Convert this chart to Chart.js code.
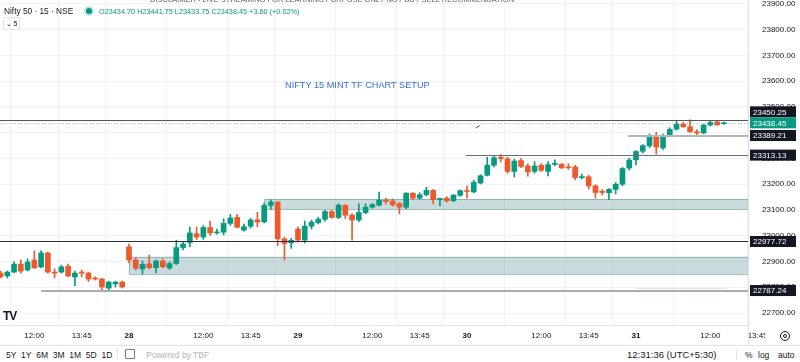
<!DOCTYPE html>
<html>
<head>
<meta charset="utf-8">
<script src="https://cdn.jsdelivr.net/npm/chart.js@4.4.1/dist/chart.umd.min.js"></script>
<style>
  html, body { margin: 0; padding: 0; background: #fff; overflow: hidden; }
  body { width: 800px; height: 362px; position: relative; font-family: "Liberation Sans", Arial, sans-serif; color: #131722; }
  #wrap { position: absolute; left: 0; top: 0; width: 800px; height: 345px; }
  .abs { position: absolute; white-space: nowrap; }
  #disclaimer { left: 150px; top: -5px; font-size: 7.5px; color: #5d606b; }
  #title { left: 4px; top: 6px; font-size: 8.3px; }
  #dot { left: 86px; top: 8px; width: 6px; height: 6px; border-radius: 50%; background: #089981; box-shadow: 0 0 0 2px rgba(8,153,129,0.25); }
  #ohlc { left: 99px; top: 7px; font-size: 7.3px; color: #089981; }
  #vol { left: 3px; top: 17px; width: 15px; height: 11px; border: 1px solid #e0e3eb; border-radius: 2px; font-size: 7px; line-height: 11px; text-align: center; color: #131722; }
  #note { left: 285px; top: 80px; font-size: 9.2px; color: #2f6fdf; }
  #logo { left: 3px; top: 309px; font-size: 12px; font-weight: bold; letter-spacing: -1px; }
  #bottom { position: absolute; left: 0; top: 345px; width: 800px; height: 17px; border-top: 1px solid #e0e3eb; font-size: 8.5px; }
  #bottom span { position: absolute; top: 4px; }
</style>
</head>
<body>
<div id="wrap"><canvas id="c" width="800" height="345"></canvas></div>
<div class="abs" id="disclaimer">DISCLAIMER - LIVE STREAMING FOR LEARNING PURPOSE ONLY NOT BUY SELL RECOMMENDATION</div>
<div class="abs" id="title">Nifty 50 · 15 · NSE</div>
<div class="abs" id="dot"></div>
<div class="abs" id="ohlc">O23434.70 H23441.75 L23433.75 C23438.45 +3.60 (+0.02%)</div>
<div class="abs" id="vol">⌄ 5</div>
<div class="abs" id="note">NIFTY 15 MINT TF CHART SETUP</div>
<div class="abs" id="logo">TV</div>
<div id="bottom">
  <span style="left:6px">5Y&nbsp;&nbsp;1Y&nbsp;&nbsp;6M&nbsp;&nbsp;3M&nbsp;&nbsp;1M&nbsp;&nbsp;5D&nbsp;&nbsp;1D</span>
  <span style="left:117px;top:3px;width:1px;height:11px;background:#e0e3eb"></span>
  <span style="left:125px;top:3px;width:8px;height:8px;border:1px solid #787b86;border-radius:1px"></span>
  <span style="left:146px;color:#b2b5be">Powered by TBF</span>
  <span style="left:627px;font-size:9.5px;top:3px">12:31:36 (UTC+5:30)</span>
  <span style="left:736px;top:3px;width:1px;height:11px;background:#e0e3eb"></span>
  <span style="left:745px">%</span>
  <span style="left:758px">log</span>
  <span style="left:778px">auto</span>
</div>
<script>
// NIFTY 50, 15 min candles, 27..31 (index 0 = 09:15 of the 27th)
const firstBar = 6;

const opens = [
  22855, 22844, 22859, 22890, 22867, 22906, 22879, 22933, 22859, 22859, 22882, 22840, 22859, 22855, 22836, 22832, 22797, 22813, 22820,
  22957, 22906, 22871, 22891, 22876, 22902, 22875, 22892, 22954, 22974, 23008, 22995, 23032, 23011, 23014, 23048, 23071, 23022, 23037, 23062, 23054, 23118, 23131, 22988, 22972,
  23026, 22983, 23037, 23051, 23064, 23094, 23071, 23118, 23080, 23061, 23090, 23111, 23119, 23138, 23135, 23125, 23111, 23165, 23146, 23159, 23176, 23141, 23146, 23136, 23157,
  23175, 23170, 23205, 23235, 23274, 23305, 23299, 23250, 23292, 23271, 23250, 23274, 23250, 23277, 23278, 23267, 23267, 23226, 23229, 23194, 23173, 23167, 23180, 23200, 23263,
  23295, 23328, 23349, 23389, 23341, 23389, 23414, 23433, 23423, 23404, 23399, 23430, 23442, 23434.70
];
const highs = [
  22863, 22863, 22899, 22906, 22910, 22941, 22941, 22937, 22871, 22886, 22890, 22863, 22867, 22859, 22840, 22836, 22824, 22824, 22824,
  22968, 22914, 22902, 22925, 22906, 22910, 22898, 22983, 22975, 23034, 23034, 23040, 23056, 23026, 23066, 23083, 23083, 23045, 23068, 23091, 23126, 23139, 23133, 22995, 22990,
  23035, 23057, 23061, 23072, 23099, 23099, 23124, 23121, 23085, 23124, 23124, 23125, 23170, 23146, 23143, 23128, 23168, 23168, 23167, 23188, 23180, 23146, 23152, 23161, 23178,
  23194, 23216, 23237, 23305, 23311, 23315, 23305, 23297, 23301, 23279, 23288, 23280, 23288, 23295, 23280, 23280, 23273, 23239, 23235, 23198, 23179, 23183, 23207, 23265, 23301,
  23331, 23354, 23395, 23402, 23395, 23419, 23445, 23440, 23450.25, 23412, 23432, 23448, 23447, 23441.75
];
const lows = [
  22836, 22836, 22857, 22855, 22863, 22873, 22876, 22855, 22837, 22855, 22840, 22806, 22840, 22822, 22828, 22789, 22787.24, 22801, 22797,
  22894, 22867, 22851, 22871, 22856, 22875, 22869, 22888, 22945, 22957, 22985, 22986, 23001, 23006, 23003, 23040, 23030, 23018, 23030, 23035, 23050, 23103, 22962, 22906, 22951,
  22975, 22972, 23026, 23046, 23057, 23068, 23066, 23067, 22983, 23055, 23085, 23107, 23115, 23123, 23115, 23086, 23105, 23140, 23142, 23155, 23124, 23116, 23130, 23132, 23153,
  23146, 23167, 23201, 23232, 23267, 23287, 23243, 23228, 23264, 23231, 23243, 23250, 23232, 23272, 23260, 23258, 23218, 23221, 23181, 23146, 23158, 23140, 23163, 23194, 23255,
  23275, 23321, 23343, 23317, 23335, 23385, 23410, 23421, 23401, 23393, 23396, 23426, 23428, 23433.75
];
const closes = [
  22840, 22859, 22890, 22863, 22898, 22875, 22933, 22859, 22855, 22879, 22844, 22855, 22855, 22832, 22832, 22801, 22820, 22820, 22801,
  22906, 22874, 22889, 22876, 22902, 22880, 22892, 22954, 22968, 23011, 22995, 23032, 23011, 23014, 23048, 23069, 23033, 23035, 23061, 23053, 23118, 23131, 22988, 22970, 22982,
  22983, 23037, 23053, 23064, 23094, 23071, 23119, 23080, 23061, 23090, 23111, 23121, 23138, 23133, 23120, 23111, 23165, 23146, 23159, 23176, 23140, 23144, 23136, 23157, 23175,
  23172, 23207, 23233, 23274, 23303, 23300, 23250, 23290, 23269, 23248, 23271, 23254, 23276, 23280, 23264, 23264, 23226, 23229, 23194, 23168, 23168, 23180, 23200, 23261, 23294,
  23327, 23350, 23390, 23344, 23389, 23413, 23433, 23423, 23404, 23399, 23430, 23440, 23431, 23438.45
];

// time axis
const tickIdx  = [11, 18, 25, 36, 43, 50, 61, 68, 75, 86, 93, 100, 111, 118];
const tickText = ['12:00', '13:45', '28', '12:00', '13:45', '29', '12:00', '13:45', '30', '12:00', '13:45', '31', '12:00', '13:45'];
const dayTicks = ['28', '29', '30', '31'];

// price axis
const priceMin = 22653.4, priceMax = 23915.5;
const priceTicks = [22700, 22800, 22900, 23000, 23100, 23200, 23300, 23400, 23500, 23600, 23700, 23800, 23900];

// drawings: horizontal levels (start bar, null = from left edge) and zones
const levelPrices = [23450.25, 23389.21, 23313.13, 22977.72, 22787.24];
const levelStart  = [null, 98.8, 74.85, null, 12];
const zoneTop     = [23143, 22918];
const zoneBottom  = [23104, 22851];
const zoneStart   = [45, 25];
const lastPrice = 23438.45;

const upColor = '#089981', downColor = '#ec5a2c';
const levelStyle = [
  { color: '#55585f', width: 1 },
  { color: '#b2b5be', width: 2 },
  { color: '#6a6d78', width: 1 },
  { color: '#2a2e39', width: 1 },
  { color: '#a9acb5', width: 2 }
];

const candleColors = opens.map((o, k) => closes[k] >= o ? upColor : downColor);
const wickData = opens.map((o, k) => ({ x: firstBar + k, y: [lows[k], highs[k]] }));
const bodyData = opens.map((o, k) => ({ x: firstBar + k, y: [o, closes[k]] }));

const FONT = '"Liberation Sans", Arial, sans-serif';

function boxLabel(ctx, area, y, text, bg) {
  ctx.fillStyle = bg;
  ctx.fillRect(area.right + 2, y - 5.5, 46, 11);
  ctx.fillStyle = '#fff';
  ctx.font = '8px ' + FONT;
  ctx.textBaseline = 'middle';
  ctx.textAlign = 'left';
  ctx.fillText(text, area.right + 5, y + 0.5);
}

const drawings = {
  id: 'drawings',
  beforeDatasetsDraw(chart) {
    const { ctx, chartArea: a, scales: { x, y } } = chart;
    ctx.save();
    for (let i = 0; i < zoneTop.length; i++) {
      const x0 = x.getPixelForValue(zoneStart[i]);
      const y0 = y.getPixelForValue(zoneTop[i]);
      const y1 = y.getPixelForValue(zoneBottom[i]);
      ctx.fillStyle = 'rgba(120,165,168,0.4)';
      ctx.fillRect(x0, y0, a.right - x0, y1 - y0);
      ctx.strokeStyle = 'rgba(95,140,145,0.55)';
      ctx.lineWidth = 1;
      ctx.strokeRect(x0 + 0.5, y0 + 0.5, a.right - x0, y1 - y0);
    }
    ctx.restore();
  },
  afterDatasetsDraw(chart) {
    const { ctx, chartArea: a, scales: { x, y } } = chart;
    ctx.save();
    ctx.beginPath();
    ctx.rect(a.left, a.top, a.right - a.left, a.bottom - a.top);
    ctx.clip();
    // current price dotted line
    const yl = Math.round(y.getPixelForValue(lastPrice)) + 0.5;
    ctx.setLineDash([1, 2]);
    ctx.strokeStyle = 'rgba(8,153,129,0.4)';
    ctx.lineWidth = 1;
    ctx.beginPath(); ctx.moveTo(a.left, yl); ctx.lineTo(a.right, yl); ctx.stroke();
    ctx.setLineDash([]);
    for (let i = 0; i < levelPrices.length; i++) {
      const st = levelStyle[i];
      const x0 = levelStart[i] === null ? a.left : x.getPixelForValue(levelStart[i]);
      const yy = Math.round(y.getPixelForValue(levelPrices[i])) + (st.width === 1 ? 0.5 : 0);
      ctx.strokeStyle = st.color;
      ctx.lineWidth = st.width;
      ctx.beginPath(); ctx.moveTo(x0, yy); ctx.lineTo(a.right, yy); ctx.stroke();
    }
    // faint short line and small pencil mark
    ctx.lineWidth = 1;
    const yf = Math.round(y.getPixelForValue(22798)) + 0.5;
    ctx.strokeStyle = '#e3e5eb';
    ctx.beginPath(); ctx.moveTo(x.getPixelForValue(100), yf); ctx.lineTo(x.getPixelForValue(113.5), yf); ctx.stroke();
    ctx.strokeStyle = '#555';
    ctx.beginPath();
    ctx.moveTo(x.getPixelForValue(76.3), y.getPixelForValue(23418));
    ctx.lineTo(x.getPixelForValue(76.9), y.getPixelForValue(23428));
    ctx.stroke();
    ctx.restore();
  },
  afterDraw(chart) {
    const { ctx, chartArea: a, scales: { x, y } } = chart;
    ctx.save();
    ctx.strokeStyle = '#e0e3eb';
    ctx.lineWidth = 1;
    ctx.beginPath(); ctx.moveTo(a.right + 0.5, 0); ctx.lineTo(a.right + 0.5, chart.height); ctx.stroke();
    // clipped last time label
    ctx.save();
    ctx.beginPath(); ctx.rect(a.right + 1, a.bottom, 16, 20); ctx.clip();
    ctx.fillStyle = '#131722';
    ctx.font = '8px ' + FONT;
    ctx.textAlign = 'center'; ctx.textBaseline = 'middle';
    ctx.fillText(tickText[tickText.length - 1], x.getPixelForValue(tickIdx[tickIdx.length - 1]), a.bottom + 11);
    ctx.restore();
    // scroll icon
    ctx.strokeStyle = '#131722';
    ctx.beginPath(); ctx.arc(785, a.bottom + 11, 4.5, 0, Math.PI * 2); ctx.stroke();
    ctx.beginPath(); ctx.arc(785, a.bottom + 11, 1.5, 0, Math.PI * 2); ctx.stroke();
    // price labels of the levels
    const labels = levelPrices.map(p => ({ y: y.getPixelForValue(p), text: p.toFixed(2) }));
    const yLast = y.getPixelForValue(lastPrice);
    labels.forEach(l => { if (Math.abs(l.y - yLast) < 11) l.y = l.y < yLast ? yLast - 11 : yLast + 11; });
    labels.forEach(l => boxLabel(ctx, a, l.y, l.text, '#131722'));
    boxLabel(ctx, a, yLast, lastPrice.toFixed(2), upColor);
    ctx.restore();
  }
};

new Chart(document.getElementById('c'), {
  type: 'bar',
  data: {
    datasets: [
      { data: bodyData, backgroundColor: candleColors, barThickness: 5, grouped: false, minBarLength: 1, order: 1 },
      { data: wickData, backgroundColor: candleColors, barThickness: 1, grouped: false, order: 2 }
    ]
  },
  options: {
    responsive: false,
    animation: false,
    events: [],
    layout: { padding: 0 },
    plugins: { legend: { display: false }, tooltip: { enabled: false } },
    scales: {
      x: {
        type: 'linear',
        min: 5.92,
        max: 116.57,
        offset: false,
        afterBuildTicks: s => { s.ticks = tickIdx.filter(v => v <= s.max).map(v => ({ value: v })); },
        afterFit: s => { s.height = 20; s.paddingLeft = 0; s.paddingRight = 0; },
        grid: { color: 'rgba(42,46,57,0.06)', drawTicks: false },
        border: { display: true, color: '#e0e3eb' },
        ticks: {
          autoSkip: false,
          maxRotation: 0,
          padding: 6,
          color: '#131722',
          callback: v => tickText[tickIdx.indexOf(v)],
          font: c => {
            const t = c && c.tick ? tickText[tickIdx.indexOf(c.tick.value)] : '';
            return { family: FONT, size: 8, weight: dayTicks.includes(t) ? 'bold' : 'normal' };
          }
        }
      },
      y: {
        type: 'linear',
        position: 'right',
        min: priceMin,
        max: priceMax,
        afterBuildTicks: s => { s.ticks = priceTicks.map(v => ({ value: v })); },
        afterFit: s => { s.width = 52; s.paddingTop = 0; s.paddingBottom = 0; },
        grid: { color: 'rgba(42,46,57,0.06)', drawTicks: false },
        border: { display: false },
        ticks: {
          padding: 14,
          color: '#131722',
          font: { family: FONT, size: 8 },
          callback: v => v.toFixed(2)
        }
      }
    }
  },
  plugins: [drawings]
});
</script>
</body>
</html>
